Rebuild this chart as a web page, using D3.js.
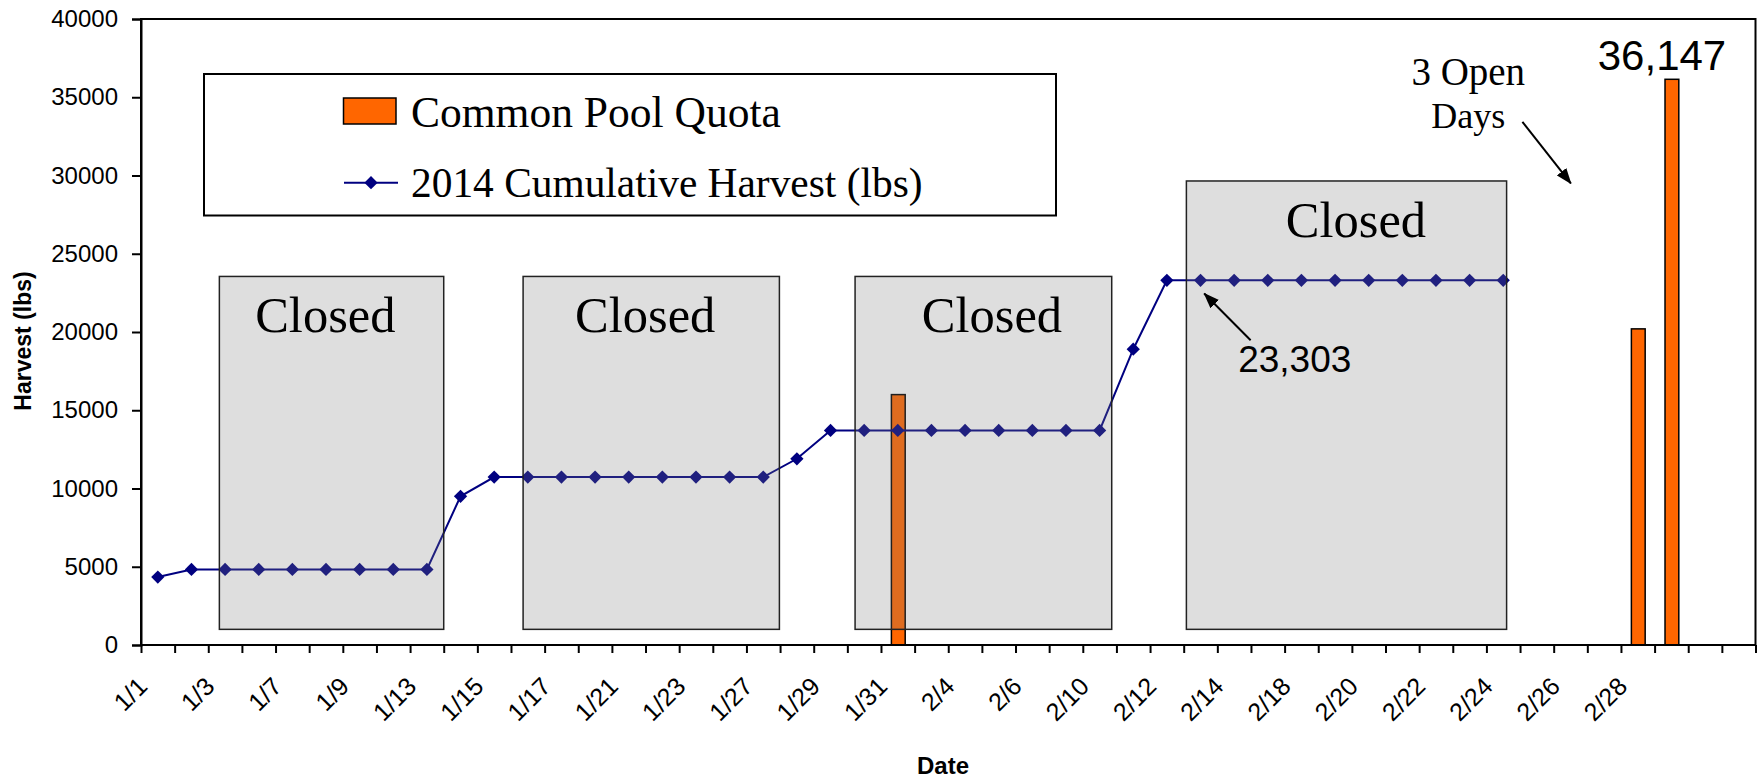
<!DOCTYPE html>
<html><head><meta charset="utf-8">
<script src="https://cdn.jsdelivr.net/npm/d3@7"></script>
<style>body{margin:0;background:#fff} svg{display:block}</style>
</head><body><svg id="c" width="1760" height="779"></svg>
<script>
// ---------- data ----------
const categories = ["1/1","1/2","1/3","1/6","1/7","1/8","1/9","1/10","1/13","1/14","1/15","1/16","1/17",
  "1/20","1/21","1/22","1/23","1/24","1/27","1/28","1/29","1/30","1/31","2/3","2/4","2/5","2/6","2/7",
  "2/10","2/11","2/12","2/13","2/14","2/17","2/18","2/19","2/20","2/21","2/22","2/23","2/24","2/25",
  "2/26","2/27","2/28","3/1","",""];
const harvestValues = [4340,4830,4830,4830,4830,4830,4830,4830,4830,9500,
  10730,10730,10730,10730,10730,10730,10730,10730,10730,11900,
  13710,13710,13710,13710,13710,13710,13710,13710,13710,18900,
  23303,23303,23303,23303,23303,23303,23303,23303,23303,23303,23303];
const quotaDates = ["1/31","2/28","3/1"];
const quotaValues = [16000,20200,36147];
const yTickValues = [0,5000,10000,15000,20000,25000,30000,35000,40000];
// closed periods, in category units (start, end), harvest value of the top, label centre
const closedStart = [2.33, 11.36, 21.23, 31.08];
const closedEnd   = [9.0, 18.98, 28.86, 40.6];
const closedTop   = [23550, 23550, 23550, 29650];
const closedLabelAt = [5.48, 14.99, 25.3, 36.12];
const closedBottom = 1000;
const seriesNames = ["Common Pool Quota","2014 Cumulative Harvest (lbs)"];

// ---------- layout ----------
const L = 141, R = 1755.5, T = 19, B = 645;
const svg = d3.select("#c");
const sans = "'Liberation Sans', Arial, sans-serif";
const serif = "'Liberation Serif', 'Times New Roman', serif";

const x = d3.scaleBand().domain(d3.range(categories.length)).range([L, R]).padding(0);
const xu = d3.scaleLinear().domain([0, categories.length]).range([L, R]);
const y = d3.scaleLinear().domain([0, 40000]).range([B, T]);
const cx = i => x(i) + x.bandwidth() / 2;

// defs
const defs = svg.append("defs");
defs.append("marker").attr("id","ah").attr("markerUnits","userSpaceOnUse")
  .attr("markerWidth",16).attr("markerHeight",12).attr("refX",15).attr("refY",6)
  .attr("orient","auto")
  .append("path").attr("d","M0,0L16,6L0,12Z").attr("fill","#000");

// plot frame
svg.append("rect").attr("x",L).attr("y",T).attr("width",R-L).attr("height",B-T)
  .attr("fill","none").attr("stroke","#000").attr("stroke-width",2);

// bars
const bw = x.bandwidth() * 0.41;
svg.append("g").selectAll("rect").data(quotaDates).join("rect")
  .attr("x",(d)=>cx(categories.indexOf(d)) - bw/2 + 0.5)
  .attr("width",bw)
  .attr("y",(d,i)=>y(quotaValues[i]))
  .attr("height",(d,i)=>y(0)-y(quotaValues[i]))
  .attr("fill","#FF6600").attr("stroke","#000").attr("stroke-width",1.5);

// line
const line = d3.line().x((d,i)=>cx(i)).y(d=>y(d));
svg.append("path").datum(harvestValues).attr("d",line)
  .attr("fill","none").attr("stroke","#000080").attr("stroke-width",2);
const diamond = d3.symbol().type(d3.symbolSquare).size(88);
svg.append("g").selectAll("path").data(harvestValues).join("path")
  .attr("d",diamond)
  .attr("transform",(d,i)=>`translate(${cx(i)},${y(d)}) rotate(45)`)
  .attr("fill","#000080");

// closed boxes (semi-transparent, on top)
const boxes = svg.append("g");
closedStart.forEach((s,i)=>{
  boxes.append("rect")
    .attr("x",xu(s)).attr("width",xu(closedEnd[i])-xu(s))
    .attr("y",y(closedTop[i])).attr("height",y(closedBottom)-y(closedTop[i]))
    .attr("fill","rgb(125,125,125)").attr("fill-opacity",0.255)
    .attr("stroke","#222").attr("stroke-width",1.5);
  boxes.append("text")
    .attr("x",xu(closedLabelAt[i])).attr("y",y(closedTop[i])+56)
    .attr("text-anchor","middle").attr("font-family",serif).attr("font-size",50.5)
    .attr("fill","#000").text("Closed");
});

// y axis
const yAxis = svg.append("g").attr("transform",`translate(${L},0)`)
  .call(d3.axisLeft(y).tickValues(yTickValues).tickSize(9).tickPadding(14).tickFormat(d3.format("d")));
yAxis.selectAll("text").attr("font-family",sans).attr("font-size",24).attr("fill","#000");
yAxis.selectAll("line,path").attr("stroke","#000").attr("stroke-width",2);

// x axis
const xAxis = svg.append("g").attr("transform",`translate(0,${B})`)
  .call(d3.axisBottom(xu).tickValues(d3.range(categories.length+1)).tickSize(8).tickFormat(""));
xAxis.selectAll("line,path").attr("stroke","#000").attr("stroke-width",2);
xAxis.select(".domain").attr("d",`M${L},0H${R}`);

svg.append("g").selectAll("text")
  .data(categories.map((c,i)=>({c,i})).filter(d=>d.i%2===0 && d.c!==""))
  .join("text")
  .attr("transform",d=>`translate(${cx(d.i)-9},${B+43}) rotate(-45)`)
  .attr("text-anchor","end").attr("font-family",sans).attr("font-size",25).attr("fill","#000")
  .text(d=>d.c);

// axis titles
svg.append("text").attr("transform",`translate(31,341) rotate(-90)`)
  .attr("text-anchor","middle").attr("font-family",sans).attr("font-weight","bold")
  .attr("font-size",23).text("Harvest (lbs)");
svg.append("text").attr("x",943).attr("y",774)
  .attr("text-anchor","middle").attr("font-family",sans).attr("font-weight","bold")
  .attr("font-size",24).text("Date");

// legend
const lg = svg.append("g");
lg.append("rect").attr("x",204).attr("y",74).attr("width",852).attr("height",141.5)
  .attr("fill","#fff").attr("stroke","#000").attr("stroke-width",2);
lg.append("rect").attr("x",343.5).attr("y",98).attr("width",52.5).attr("height",26)
  .attr("fill","#FF6600").attr("stroke","#000").attr("stroke-width",1.5);
lg.append("text").attr("x",411).attr("y",126.5).attr("font-family",serif).attr("font-size",43.5)
  .text(seriesNames[0]);
lg.append("line").attr("x1",344).attr("x2",398).attr("y1",182.7).attr("y2",182.7)
  .attr("stroke","#000080").attr("stroke-width",2);
lg.append("path").attr("d",diamond).attr("transform","translate(371,182.7) rotate(45)")
  .attr("fill","#000080");
lg.append("text").attr("x",411).attr("y",196.5).attr("font-family",serif).attr("font-size",41.4)
  .text(seriesNames[1]);

// annotations (data coordinates)
const ann = svg.append("g");
ann.append("line")
  .attr("x1",xu(32.99)).attr("y1",y(19470)).attr("x2",xu(31.61)).attr("y2",y(22460))
  .attr("stroke","#000").attr("stroke-width",2).attr("marker-end","url(#ah)");
ann.append("text").attr("x",xu(32.62)).attr("y",y(17460))
  .attr("font-family",sans).attr("font-size",37).text("23,303");
ann.append("line")
  .attr("x1",xu(41.07)).attr("y1",y(33430)).attr("x2",xu(42.51)).attr("y2",y(29490))
  .attr("stroke","#000").attr("stroke-width",2).attr("marker-end","url(#ah)");
ann.append("text").attr("x",xu(39.46)).attr("y",y(35780)).attr("text-anchor","middle")
  .attr("font-family",serif).attr("font-size",39).text("3 Open");
ann.append("text").attr("x",xu(39.46)).attr("y",y(33010)).attr("text-anchor","middle")
  .attr("font-family",serif).attr("font-size",36).text("Days");
ann.append("text").attr("x",xu(45.22)).attr("y",y(36760)).attr("text-anchor","middle")
  .attr("font-family",sans).attr("font-size",42).text(d3.format(",")(quotaValues[2]));
</script></body></html>
